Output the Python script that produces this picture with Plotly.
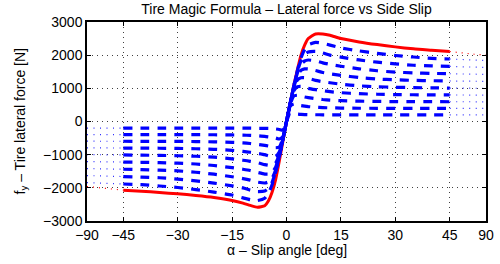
import plotly.graph_objects as go

# ---------------- data ----------------
ALPHA = [-45, -40, -35, -30, -25, -20, -15, -12, -10, -8, -6, -5, -4, -3, -2, -1,
         0, 1, 2, 3, 4, 5, 6, 8, 10, 12, 15, 20, 25, 30, 35, 40, 45]

RED = [-2070, -2100, -2140, -2180, -2230, -2290, -2380, -2460, -2530, -2585, -2540,
       -2400, -2140, -1750, -1200, -600, 0, 550, 1080, 1560, 2000, 2300, 2500, 2640,
       2640, 2600, 2500, 2400, 2320, 2250, 2190, 2150, 2110]

BLUE = {
    "0.9": [-1885, -1903, -1944, -1989, -2052, -2128, -2218, -2304, -2358, -2385, -2313,
            -2169, -1917, -1535, -1067, -547, 0, 547, 1067, 1535, 1917, 2169, 2313, 2385,
            2358, 2304, 2218, 2128, 2052, 1989, 1944, 1903, 1885],
    "0.8": [-1660, -1676, -1696, -1736, -1788, -1856, -1940, -2000, -2068, -2112, -2096,
            -2020, -1840, -1512, -1056, -546, 0, 546, 1056, 1512, 1840, 2020, 2096, 2112,
            2068, 2000, 1940, 1856, 1788, 1736, 1696, 1676, 1660],
    "0.7": [-1440, -1450, -1467, -1488, -1530, -1589, -1666, -1722, -1768, -1828, -1854,
            -1824, -1722, -1463, -1043, -546, 0, 546, 1043, 1463, 1722, 1824, 1854, 1828,
            1768, 1722, 1666, 1589, 1530, 1488, 1467, 1450, 1440],
    "0.6": [-1222, -1230, -1240, -1257, -1281, -1326, -1392, -1440, -1479, -1536, -1584,
            -1587, -1542, -1380, -1023, -543, 0, 543, 1023, 1380, 1542, 1587, 1584, 1536,
            1479, 1440, 1392, 1326, 1281, 1257, 1240, 1230, 1222],
    "0.5": [-1008, -1014, -1022, -1032, -1048, -1075, -1125, -1168, -1200, -1240, -1300,
            -1320, -1320, -1250, -1000, -540, 0, 540, 1000, 1250, 1320, 1320, 1300, 1240,
            1200, 1168, 1125, 1075, 1048, 1032, 1022, 1014, 1008],
    "0.4": [-800, -802, -806, -812, -822, -838, -868, -900, -928, -960, -1000,
            -1034, -1056, -1048, -920, -528, 0, 528, 920, 1048, 1056, 1034, 1000, 960,
            928, 900, 868, 838, 822, 812, 806, 802, 800],
    "0.3": [-596, -597, -598, -600, -605, -614, -629, -645, -663, -689, -720,
            -740, -768, -792, -771, -512, 0, 512, 771, 792, 768, 740, 720, 689,
            663, 645, 629, 614, 605, 600, 598, 597, 596],
    "0.2": [-395, -396, -396, -397, -398, -400, -406, -412, -419, -430, -450,
            -464, -480, -500, -528, -460, 0, 460, 528, 500, 480, 464, 450, 430,
            419, 412, 406, 400, 398, 397, 396, 396, 395],
    "0.1": [-199, -199, -199, -199, -199, -199, -200, -201, -202, -204, -207,
            -210, -215, -225, -240, -264, 0, 264, 240, 225, 215, 210, 207, 204,
            202, 201, 200, 199, 199, 199, 199, 199, 199],
}

# extensions beyond +/-45 deg (drawn dotted)
EXT_RED_ALPHA_L = [-90, -75, -60, -45]
EXT_RED_L = [-1960, -1995, -2030, -2070]
EXT_RED_ALPHA_R = [45, 60, 75, 90]
EXT_RED_R = [2110, 2060, 2030, 2000]

EXT_BLUE_ALPHA_L = [-90, -45]
EXT_BLUE_ALPHA_R = [45, 90]
EXT_BLUE_L = {"0.9": [-1840, -1885], "0.8": [-1630, -1660], "0.7": [-1420, -1440],
              "0.6": [-1210, -1222], "0.5": [-1000, -1008], "0.4": [-796, -800],
              "0.3": [-594, -596], "0.2": [-394, -395], "0.1": [-199, -199]}
EXT_BLUE_R = {"0.9": [1885, 1840], "0.8": [1660, 1630], "0.7": [1440, 1420],
              "0.6": [1222, 1210], "0.5": [1008, 1000], "0.4": [800, 796],
              "0.3": [596, 594], "0.2": [395, 394], "0.1": [199, 199]}

X_TICKS = [-90, -45, -30, -15, 0, 15, 30, 45, 90]
Y_TICKS = [-3000, -2000, -1000, 0, 1000, 2000, 3000]


# compressed outer region of the slip axis: 45..90 deg occupies 10 axis units
def ax(a):
    s = 1 if a >= 0 else -1
    m = abs(a)
    return a if m <= 45 else s * (45 + (m - 45) * 10.0 / 45.0)


def axl(lst):
    return [ax(a) for a in lst]


FONT = "Liberation Sans, Arial, Helvetica, sans-serif"
FS = 14
fig = go.Figure()

# red (full-load) curve
fig.add_trace(go.Scatter(x=axl(ALPHA), y=RED, mode="lines",
                         line=dict(color="#ff0000", width=3, shape="spline", smoothing=0.5),
                         showlegend=False, hoverinfo="skip"))
fig.add_trace(go.Scatter(x=axl(EXT_RED_ALPHA_L), y=EXT_RED_L, mode="lines",
                         line=dict(color="#ff0000", width=1.2, dash="1px,5px"),
                         showlegend=False, hoverinfo="skip"))
fig.add_trace(go.Scatter(x=axl(EXT_RED_ALPHA_R), y=EXT_RED_R, mode="lines",
                         line=dict(color="#ff0000", width=1.2, dash="1px,5px"),
                         showlegend=False, hoverinfo="skip"))

for k, vals in BLUE.items():
    fig.add_trace(go.Scatter(x=axl(ALPHA), y=vals, mode="lines",
                             line=dict(color="#0000ff", width=3.2, dash="9px,8px",
                                       shape="spline", smoothing=0.5),
                             showlegend=False, hoverinfo="skip"))
    fig.add_trace(go.Scatter(x=axl(EXT_BLUE_ALPHA_L), y=EXT_BLUE_L[k], mode="lines",
                             line=dict(color="#3030ff", width=1.2, dash="1px,5.5px"),
                             showlegend=False, hoverinfo="skip"))
    fig.add_trace(go.Scatter(x=axl(EXT_BLUE_ALPHA_R), y=EXT_BLUE_R[k], mode="lines",
                             line=dict(color="#3030ff", width=1.2, dash="1px,5.5px"),
                             showlegend=False, hoverinfo="skip"))

axis_common = dict(showline=True, linecolor="black", linewidth=1.5, mirror="ticks",
                   ticks="inside", ticklen=4, tickcolor="black", showgrid=True,
                   gridcolor="rgba(0,0,0,0.75)", gridwidth=1, griddash="1px,4px",
                   zeroline=False, automargin=False,
                   tickfont=dict(family=FONT, size=FS, color="black"))

fig.update_xaxes(range=[ax(-90), ax(90)], tickmode="array",
                 tickvals=[ax(t) for t in X_TICKS],
                 ticktext=[str(t).replace("-", "\u2212") for t in X_TICKS],
                 **axis_common)
fig.update_yaxes(range=[-3000, 3000], tickmode="array", tickvals=Y_TICKS,
                 ticktext=[str(t).replace("-", "\u2212") for t in Y_TICKS],
                 **axis_common)

fig.update_layout(
    width=500, height=264,
    margin=dict(l=87, r=14, t=22, b=43),
    paper_bgcolor="white", plot_bgcolor="white",
    font=dict(family=FONT, size=FS, color="black"),
    title=dict(text="Tire Magic Formula \u2013 Lateral force vs Side Slip",
               x=0.5, xref="paper", y=1 - 9 / 264, yref="container",
               yanchor="middle", font=dict(family=FONT, size=FS, color="black")),
    annotations=[
        dict(text="\u03b1 \u2013 Slip angle [deg]", xref="paper", yref="paper",
             x=0.5, y=-29 / 199, xanchor="center", yanchor="middle", showarrow=False,
             font=dict(family=FONT, size=FS, color="black")),
        dict(text="f<sub>y</sub> \u2013 Tire lateral force [N]", xref="paper", yref="paper",
             x=-67 / 399, y=0.5, xanchor="center", yanchor="middle", showarrow=False,
             textangle=-90, font=dict(family=FONT, size=FS, color="black")),
    ],
)

fig.write_html("out.html", config={"displayModeBar": False},
               post_script="document.body.style.margin='0';"
                           "document.body.style.overflow='hidden';")
